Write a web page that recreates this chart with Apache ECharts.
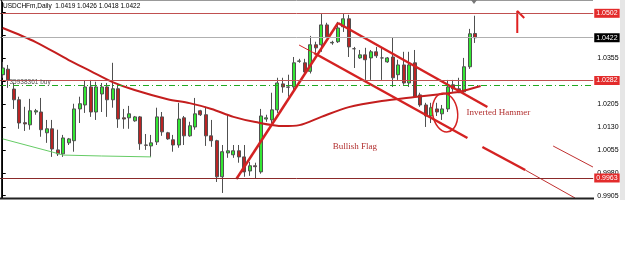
<!DOCTYPE html>
<html><head><meta charset="utf-8">
<script src="https://cdn.jsdelivr.net/npm/echarts@6/dist/echarts.min.js"></script>
<style>html,body{margin:0;padding:0;background:#fff}#c{width:625px;height:275px}</style>
</head><body><div id="c"></div>
<script>
// ---- data ----
const opens  = [1.0301,1.0319,1.0254,1.0219,1.0144,1.0137,1.0179,1.0179,1.0111,1.0124,1.0055,1.0042,1.0078,1.0085,1.0189,1.0202,1.0261,1.0179,1.0238,1.0261,1.0219,1.0255,1.0160,1.0160,1.0150,1.0163,1.0071,1.0068,1.0081,1.0163,1.0111,1.0088,1.0071,1.0160,1.0101,1.0130,1.0183,1.0170,1.0101,1.0085,0.9967,1.0045,1.0039,1.0052,1.0032,0.9986,1.0003,0.9983,1.0156,1.0153,1.0186,1.0271,1.0261,1.0261,1.0345,1.0340,1.0312,1.0399,1.0399,1.0464,1.0405,1.0409,1.0458,1.0484,1.0386,1.0356,1.0366,1.0356,1.0376,1.0356,1.0343,1.0359,1.0301,1.0333,1.0274,1.0340,1.0235,1.0202,1.0166,1.0189,1.0173,1.0189,1.0268,1.0255,1.0245,1.0327,1.0436];
const closes = [1.0323,1.0284,1.0219,1.0143,1.0140,1.0183,1.0183,1.0121,1.0124,1.0058,1.0042,1.0094,1.0091,1.0189,1.0206,1.0261,1.0179,1.0261,1.0261,1.0219,1.0255,1.0156,1.0156,1.0173,1.0163,1.0075,1.0070,1.0078,1.0163,1.0114,1.0091,1.0071,1.0156,1.0101,1.0134,1.0173,1.0170,1.0101,1.0085,0.9967,1.0049,1.0052,1.0052,1.0032,0.9983,1.0003,1.0000,1.0166,1.0160,1.0186,1.0274,1.0261,1.0260,1.0340,1.0346,1.0310,1.0399,1.0389,1.0464,1.0425,1.0407,1.0454,1.0484,1.0392,1.0386,1.0366,1.0350,1.0376,1.0363,1.0356,1.0356,1.0291,1.0333,1.0274,1.0333,1.0229,1.0202,1.0166,1.0193,1.0179,1.0189,1.0261,1.0255,1.0242,1.0327,1.0435,1.0422];
const lows   = [1.0291,1.0258,1.0189,1.0124,1.0117,1.0121,1.0170,1.0098,1.0078,1.0032,1.0035,1.0032,1.0071,1.0049,1.0143,1.0176,1.0163,1.0153,1.0179,1.0163,1.0193,1.0127,1.0124,1.0124,1.0147,1.0055,1.0055,1.0032,1.0071,1.0101,1.0088,1.0049,1.0062,1.0071,1.0098,1.0121,1.0166,1.0068,1.0065,0.9950,0.9914,1.0029,1.0029,1.0013,0.9967,0.9970,0.9960,0.9977,1.0147,1.0143,1.0176,1.0242,1.0229,1.0251,1.0340,1.0301,1.0305,1.0373,1.0376,1.0422,1.0399,1.0405,1.0441,1.0359,1.0323,1.0353,1.0284,1.0284,1.0356,1.0284,1.0340,1.0261,1.0284,1.0268,1.0261,1.0229,1.0196,1.0130,1.0143,1.0166,1.0153,1.0179,1.0245,1.0242,1.0242,1.0320,1.0405];
const highs  = [1.0343,1.0333,1.0274,1.0229,1.0196,1.0222,1.0189,1.0225,1.0153,1.0153,1.0121,1.0104,1.0094,1.0206,1.0229,1.0281,1.0284,1.0278,1.0274,1.0274,1.0340,1.0268,1.0189,1.0199,1.0166,1.0166,1.0107,1.0104,1.0193,1.0179,1.0114,1.0104,1.0209,1.0166,1.0147,1.0225,1.0186,1.0196,1.0153,1.0088,1.0071,1.0170,1.0071,1.0071,1.0071,1.0016,1.0013,1.0189,1.0170,1.0242,1.0291,1.0291,1.0301,1.0359,1.0353,1.0353,1.0428,1.0409,1.0503,1.0471,1.0412,1.0474,1.0500,1.0497,1.0392,1.0382,1.0389,1.0382,1.0392,1.0392,1.0359,1.0422,1.0350,1.0376,1.0376,1.0382,1.0242,1.0209,1.0209,1.0209,1.0202,1.0284,1.0284,1.0291,1.0356,1.0451,1.0494];

// moving average and green indicator: [bar index, price]
const maPoints = [[0,1.0454],[6,1.0408],[12,1.0349],[16,1.0313],[20,1.0277],[24,1.0251],[30,1.0221],[34,1.0208],[38,1.0189],[42,1.0163],[46,1.0146],[51,1.0133],[54,1.0136],[58,1.0163],[63,1.0195],[69,1.0215],[75,1.0228],[80,1.0238],[83,1.0245],[87,1.0264]];
const greenPoints = [[0,1.0091],[9,1.0048],[11,1.0038],[18,1.0035],[27,1.0032]];

// drawn trend lines: [bar index, price]
const risingLine     = [[42.53,0.99596],[61.03,1.04702]];
const upperFlagLine  = [[61.03,1.04702],[88.23,1.01953]];
const lowerFlagThin  = [[53.95,1.03982],[56.67,1.03720]];
const lowerFlagLine  = [[56.67,1.03720],[84.60,1.00938]];
const lowerExtThick  = [[87.32,1.00644],[95.12,0.99891]];
const lowerExtThin   = [[95.12,0.99891],[104.19,0.98975]];
const rightThinLine  = [[100.2,1.00676],[107.45,0.99989]];
const arrowPath      = [[93.67,1.04375],[93.67,1.05095],[94.94,1.04866]];

// horizontal levels
const levelValues = [1.0502, 1.0422, 1.0282, 1.0265, 0.9963];
const levelTexts  = ['1.0502', '1.0422', '1.0282', '', '0.9963'];
const tickLabelValues = [0.9905, 0.9980, 1.0055, 1.0130, 1.0205, 1.0355];
const tickMarkValues  = [0.9905, 0.9980, 1.0055, 1.0130, 1.0205, 1.0280, 1.0355, 1.0430, 1.0505];

const titleText = 'USDCHFm,Daily  1.0419 1.0426 1.0418 1.0422';
const orderText = '35938361 buy';
const flagText = 'Bullish Flag';
const hammerText = 'Inverted Hammer';
const flagTextAt = [64.11, 1.00644];
const hammerTextAt = [90.23, 1.01757];
const circleAt = [80.52, 1.01773];

// ---- chart ----
const N_CAT = 108;
const categories = Array.from({length: N_CAT}, (_, i) => String(i));
const candleData = opens.map((o, i) => [o, closes[i], lows[i], highs[i]]);

const RED = '#d42222';
const levelStyles = [
  {color: '#c05050', type: 'solid', width: 1, bg: '#e32b2b'},
  {color: '#b0b0b0', type: 'solid', width: 1, bg: '#000000'},
  {color: '#c05050', type: 'solid', width: 1, bg: '#e32b2b'},
  {color: '#22a822', type: [6, 3, 1, 3], width: 1, bg: null},
  {color: '#8b2a2a', type: 'solid', width: 1, bg: '#e32b2b'}
];

function lineSeries(data, color, width, extra) {
  return Object.assign({
    type: 'line', xAxisIndex: 1, yAxisIndex: 0, data: data,
    showSymbol: false, symbol: 'none', silent: true, z: 4,
    lineStyle: {color: color, width: width}
  }, extra || {});
}

const chart = echarts.init(document.getElementById('c'), null, {renderer: 'canvas'});
chart.setOption({
  animation: false,
  backgroundColor: '#ffffff',
  grid: {left: -2.26, right: 31.76, top: 2, bottom: 77, containLabel: false},
  xAxis: [
    {type: 'category', data: categories, boundaryGap: true, show: false},
    {type: 'value', min: -0.5, max: N_CAT - 0.5, show: false}
  ],
  yAxis: {
    type: 'value', position: 'right', min: 0.98975, max: 1.0539,
    splitLine: {show: false},
    axisLine: {show: true, lineStyle: {color: '#000', width: 1}},
    axisTick: {show: true, length: 3, customValues: tickMarkValues, lineStyle: {color: '#000'}},
    axisLabel: {customValues: tickLabelValues, fontSize: 7, color: '#000', margin: 4,
      fontFamily: 'Liberation Sans', formatter: v => v.toFixed(4)}
  },
  series: [
    lineSeries([], '#000', 1, {
      z: 1,
      markLine: {
        silent: true, symbol: ['none', 'none'], animation: false, precision: 4,
        data: levelValues.map((v, i) => ({
          yAxis: v,
          lineStyle: {color: levelStyles[i].color, type: levelStyles[i].type, width: levelStyles[i].width},
          label: levelTexts[i] ? {
            show: true, position: 'end', distance: 1, formatter: levelTexts[i],
            backgroundColor: levelStyles[i].bg, color: '#fff', fontSize: 7,
            fontFamily: 'Liberation Sans', padding: [1, 2, 1, 2]
          } : {show: false}
        }))
      }
    }),
    {
      type: 'candlestick', data: candleData, barWidth: 3.5, z: 2, silent: true,
      itemStyle: {color: '#33e633', color0: '#b82424', borderColor: '#505050', borderColor0: '#505050', borderWidth: 1}
    },
    lineSeries(greenPoints, '#66cc66', 1, {z: 3}),
    lineSeries(maPoints, '#c41e1e', 2, {smooth: 0.3, z: 3}),
    lineSeries(risingLine, RED, 2.5),
    lineSeries(upperFlagLine, RED, 2.5),
    lineSeries(lowerFlagThin, RED, 1),
    lineSeries(lowerFlagLine, RED, 2.5),
    lineSeries(lowerExtThick, RED, 2.5),
    lineSeries(lowerExtThin, '#c03030', 1),
    lineSeries(rightThinLine, '#c03030', 1),
    lineSeries(arrowPath, '#e02020', 2)
  ]
});

const toPx = p => chart.convertToPixel({xAxisIndex: 1, yAxisIndex: 0}, p);
const flagPx = toPx(flagTextAt);
const hammerPx = toPx(hammerTextAt);
const circPx = toPx(circleAt);
const orderY = chart.convertToPixel({yAxisIndex: 0}, levelValues[3]);

chart.setOption({
  graphic: [
    {type: 'rect', shape: {x: 620, y: 0, width: 5, height: 200}, style: {fill: '#e6e6e6'}, z: 0},
    {type: 'line', shape: {x1: 0, y1: 0.5, x2: 593, y2: 0.5}, style: {stroke: '#999', lineWidth: 1}, z: 10},
    {type: 'line', shape: {x1: 1.5, y1: 0, x2: 1.5, y2: 199}, style: {stroke: '#222', lineWidth: 1}, z: 10},
    {type: 'line', shape: {x1: 0, y1: 198.5, x2: 594, y2: 198.5}, style: {stroke: '#222', lineWidth: 2}, z: 10},
    {type: 'polygon', shape: {points: [[471, 0], [477, 0], [474, 4]]}, style: {fill: '#777'}, z: 10},
    {type: 'text', x: 3, y: 3, z: 10, style: {text: titleText, font: '6.5px "Liberation Sans"', fill: '#000', align: 'left', verticalAlign: 'top'}},
    {type: 'text', x: 9.5, y: orderY - 0.5, z: 10, style: {text: orderText, font: '6.5px "Liberation Sans"', fill: '#555', align: 'left', verticalAlign: 'bottom'}},
    {type: 'text', x: flagPx[0], y: flagPx[1], z: 10, style: {text: flagText, font: '9px "Liberation Serif"', fill: '#b23030', align: 'center', verticalAlign: 'middle'}},
    {type: 'text', x: hammerPx[0], y: hammerPx[1], z: 10, style: {text: hammerText, font: '9px "Liberation Serif"', fill: '#b23030', align: 'center', verticalAlign: 'middle'}},
    {type: 'ellipse', x: circPx[0], y: circPx[1], rotation: 0.15, z: 10,
      shape: {cx: 0, cy: 0, rx: 12.5, ry: 19.5}, style: {fill: 'none', stroke: RED, lineWidth: 1.5}}
  ]
});
</script>
</body></html>
